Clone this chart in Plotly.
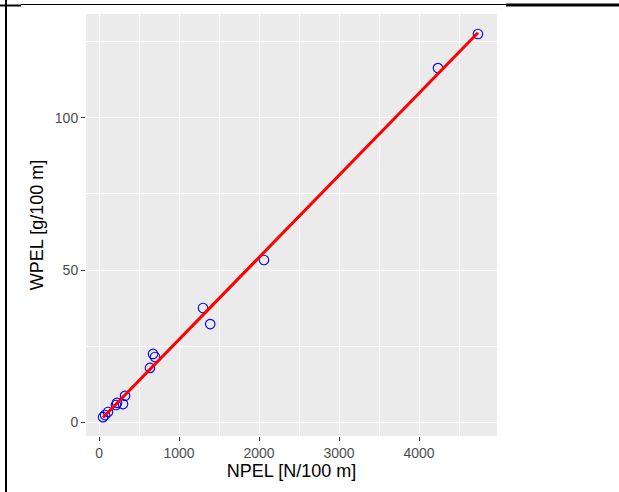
import numpy as np
import plotly.graph_objects as go

# Data
npel = [4737, 4237, 2062, 1300, 1390, 675, 700, 637, 325, 225, 212, 300, 112, 75, 50]
wpel = [127.6, 116.4, 53.3, 37.5, 32.2, 22.4, 21.4, 17.8, 8.6, 6.3, 5.6, 5.9, 3.3, 2.3, 1.6]

x_ticks = [0, 1000, 2000, 3000, 4000]
y_ticks = [0, 50, 100]

W, H = 619, 492
L, R, T, B = 86, 497, 14, 436

# linear regression (like geom_smooth(method="lm"))
slope, intercept = np.polyfit(npel, wpel, 1)
xl = np.array([min(npel), max(npel)])
yl = slope * xl + intercept

fig = go.Figure()
fig.add_trace(go.Scatter(
    x=npel, y=wpel, mode="markers",
    marker=dict(symbol="circle-open", size=9.5, color="blue", line=dict(width=1.1, color="blue")),
    showlegend=False, hoverinfo="skip"))
fig.add_trace(go.Scatter(
    x=xl, y=yl, mode="lines", line=dict(color="red", width=3),
    showlegend=False, hoverinfo="skip"))

def px2paper_x(px):
    return (px - L) / (R - L)

def px2paper_y(py):
    return (B - py) / (B - T)

shapes = [
    dict(type="line", xref="paper", yref="paper",
         x0=px2paper_x(6), x1=px2paper_x(6), y0=px2paper_y(0), y1=px2paper_y(492),
         line=dict(color="black", width=2)),
    dict(type="line", xref="paper", yref="paper",
         x0=px2paper_x(0), x1=px2paper_x(21), y0=px2paper_y(5.5), y1=px2paper_y(5.5),
         line=dict(color="black", width=2)),
    dict(type="line", xref="paper", yref="paper",
         x0=px2paper_x(21), x1=px2paper_x(506), y0=px2paper_y(4.5), y1=px2paper_y(4.5),
         line=dict(color="black", width=1)),
    dict(type="line", xref="paper", yref="paper",
         x0=px2paper_x(506), x1=px2paper_x(619), y0=px2paper_y(5), y1=px2paper_y(5),
         line=dict(color="black", width=3)),
]

fig.update_layout(
    width=W, height=H,
    margin=dict(l=L, r=W - R, t=T, b=H - B, pad=0),
    paper_bgcolor="white", plot_bgcolor="#EBEBEB",
    font=dict(family="Liberation Sans, Arial, sans-serif", color="#4D4D4D"),
    shapes=shapes,
    xaxis=dict(
        range=[-163, 4975], tickvals=x_ticks, ticktext=[str(v) for v in x_ticks],
        showgrid=True, gridcolor="white", gridwidth=1.1,
        minor=dict(tickvals=[500, 1500, 2500, 3500, 4500], showgrid=True,
                   gridcolor="white", gridwidth=0.55, ticks=""),
        ticks="outside", ticklen=4, tickcolor="#333333", tickwidth=1,
        tickfont=dict(size=14, color="#4D4D4D"),
        zeroline=False, showline=False,
        title=dict(text="NPEL [N/100 m]", font=dict(size=18, color="black"), standoff=4),
    ),
    yaxis=dict(
        range=[-4.6, 134.2], tickvals=y_ticks, ticktext=[str(v) for v in y_ticks],
        showgrid=True, gridcolor="white", gridwidth=1.1,
        minor=dict(tickvals=[25, 75, 125], showgrid=True,
                   gridcolor="white", gridwidth=0.55, ticks=""),
        ticks="outside", ticklen=4, tickcolor="#333333", tickwidth=1,
        tickfont=dict(size=14, color="#4D4D4D"),
        zeroline=False, showline=False,
        title=dict(text="WPEL [g/100 m]", font=dict(size=18, color="black"), standoff=6),
    ),
)

fig.write_html("out.html", config={"displayModeBar": False},
               post_script="document.body.style.margin='0';")
